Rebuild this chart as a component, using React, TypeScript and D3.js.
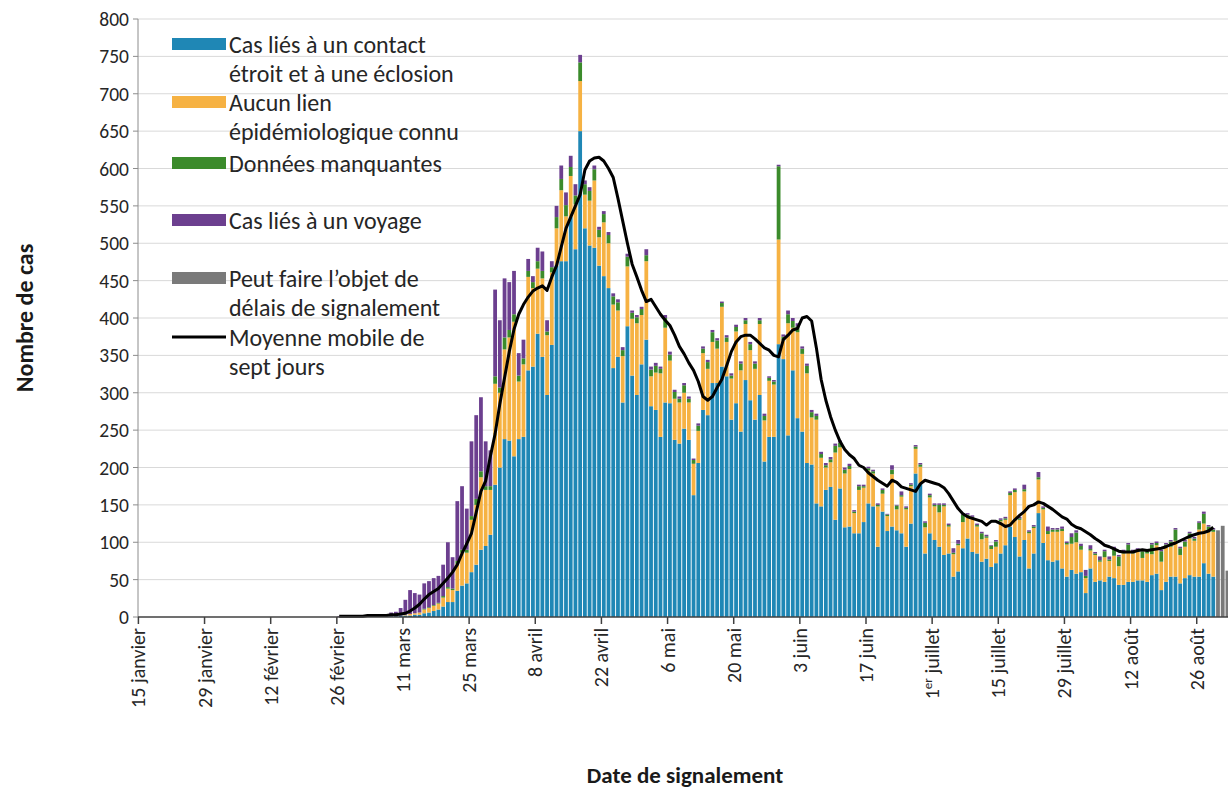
import * as d3 from 'd3';
import { useEffect, useRef } from 'react';

// daily counts from 26 février to 29 août (one value per day)
const firstDay = '2020-02-26';

const contactCases = [
  0, 0, 0, 0, 0, 0, 0,
  0, 1, 0, 1, 1, 1, 2,
  2, 2, 3, 3, 5, 6, 8,
  10, 14, 20, 20, 35, 42, 45,
  60, 70, 90, 95, 110, 177, 200,
  238, 236, 215, 238, 241, 330, 335,
  379, 348, 297, 364, 470, 476, 476,
  535, 492, 650, 520, 497, 494, 470,
  456, 440, 333, 348, 287, 389, 323,
  297, 338, 371, 282, 277, 241, 287,
  286, 237, 232, 252, 237, 163, 206,
  277, 270, 313, 313, 335, 322, 264,
  286, 248, 317, 290, 264, 297, 208,
  241, 241, 365, 345, 243, 330, 266,
  248, 206, 204, 152, 148, 170, 174,
  130, 172, 120, 121, 112, 112, 127,
  152, 148, 94, 141, 115, 121, 116,
  112, 94, 125, 192, 179, 85, 112,
  103, 94, 83, 85, 54, 61, 92,
  105, 87, 85, 74, 78, 67, 72,
  85, 96, 121, 107, 81, 103, 65,
  85, 139, 99, 76, 74, 76, 65,
  54, 63, 58, 60, 32, 65, 47,
  49, 47, 54, 52, 43, 43, 47,
  47, 49, 49, 47, 56, 58, 36,
  47, 54, 54, 45, 52, 56, 54,
  54, 72, 58, 54,
];

const unknownLink = [
  0, 0, 0, 0, 0, 0, 0,
  0, 0, 0, 0, 0, 0, 0,
  1, 2, 2, 3, 5, 6, 7,
  8, 12, 18, 16, 36, 44, 41,
  70, 80, 97, 75, 60, 135, 100,
  120, 138, 180, 77, 97, 125, 105,
  87, 105, 80, 97, 50, 95, 60,
  55, 60, 67, 45, 60, 90, 38,
  72, 60, 85, 62, 62, 80, 76,
  96, 66, 105, 40, 50, 85, 100,
  57, 55, 55, 48, 50, 42, 43,
  76, 62, 55, 46, 80, 46, 55,
  96, 82, 75, 67, 68, 95, 55,
  75, 70, 140, 25, 150, 57, 115,
  104, 120, 63, 112, 65, 30, 33,
  90, 55, 72, 77, 27, 58, 46,
  44, 44, 54, 24, 20, 70, 28,
  49, 50, 50, 33, 22, 35, 48,
  45, 46, 65, 36, 30, 35, 35,
  30, 45, 36, 30, 28, 24, 22,
  43, 34, 42, 60, 49, 65, 47,
  34, 45, 45, 35, 40, 38, 50,
  43, 35, 42, 30, 20, 24, 36,
  25, 33, 21, 30, 25, 42, 40,
  38, 38, 30, 38, 28, 38, 38,
  47, 40, 48, 38, 42, 49, 48,
  63, 53, 56, 60,
];

const missingData = [
  0, 0, 0, 0, 0, 0, 0,
  0, 0, 0, 0, 0, 0, 0,
  0, 0, 0, 0, 1, 1, 1,
  1, 2, 2, 2, 4, 4, 4,
  5, 8, 8, 5, 5, 10, 7,
  16, 10, 10, 8, 8, 8, 8,
  10, 10, 5, 7, 15, 15, 15,
  12, 12, 25, 14, 13, 15, 10,
  11, 11, 11, 11, 8, 13, 8,
  8, 8, 8, 9, 9, 6, 13,
  8, 9, 5, 10, 5, 5, 7,
  6, 9, 13, 11, 5, 6, 4,
  6, 9, 5, 8, 7, 5, 6,
  4, 4, 98, 5, 12, 9, 8,
  7, 10, 7, 5, 5, 3, 4,
  9, 6, 5, 4, 2, 5, 2,
  3, 3, 2, 5, 2, 6, 5,
  2, 2, 2, 3, 3, 6, 3,
  2, 10, 2, 2, 2, 2, 10,
  2, 2, 2, 8, 2, 4, 7,
  2, 2, 3, 3, 2, 3, 2,
  2, 3, 2, 4, 3, 3, 3,
  2, 9, 13, 5, 3, 2, 2,
  2, 8, 2, 10, 13, 3, 10,
  3, 3, 9, 3, 13, 3, 14,
  3, 7, 15, 9, 7, 7, 3,
  9, 13, 7, 3,
];

const travelCases = [
  1, 0, 1, 1, 2, 1, 2,
  3, 2, 4, 3, 5, 6, 10,
  20, 32, 27, 24, 34, 35, 36,
  36, 42, 60, 42, 80, 85, 55,
  100, 112, 99, 60, 48, 116, 90,
  79, 64, 58, 30, 25, 16, 8,
  18, 26, 15, 8, 15, 18, 17,
  15, 15, 10, 5, 5, 5, 4,
  4, 4, 4, 4, 4, 4, 3,
  3, 3, 8, 4, 4, 3, 4,
  4, 3, 3, 3, 3, 2, 3,
  3, 3, 3, 3, 2, 3, 3,
  3, 3, 3, 3, 3, 3, 3,
  2, 2, 2, 3, 5, 4, 4,
  3, 3, 3, 3, 3, 3, 3,
  3, 3, 3, 3, 2, 2, 2,
  2, 2, 2, 2, 1, 6, 1,
  5, 2, 2, 2, 2, 2, 2,
  2, 2, 2, 2, 6, 5, 2,
  2, 2, 2, 2, 2, 1, 2,
  2, 2, 2, 2, 2, 6, 2,
  2, 7, 2, 6, 2, 2, 3,
  2, 5, 3, 3, 8, 5, 2,
  5, 2, 4, 2, 2, 2, 2,
  2, 2, 2, 2, 2, 2, 2,
  2, 2, 2, 2, 2, 2, 2,
  2, 3, 2, 2,
];

// last days, may still be reported late
const delayDays = ['2020-08-30', '2020-08-31', '2020-09-01'];
const delayCases = [116, 122, 62];

// 7-day moving average, same days as the arrays above
const movingAverage = [
  1, 1, 1, 1, 1, 1, 2,
  2, 2, 2, 2, 3, 3, 4,
  5, 8, 12, 17, 24, 30, 34,
  38, 45, 52, 60, 70, 85, 98,
  112, 140, 168, 182, 215, 245, 285,
  320, 355, 385, 405, 418, 428, 436,
  440, 443, 437, 455, 470, 495, 520,
  535, 550, 565, 598, 610, 614, 615,
  610, 600, 588, 560, 530, 500, 472,
  455, 437, 422, 425, 415, 405, 397,
  390, 377, 362, 352, 340, 330, 315,
  295, 290, 295, 307, 318, 336, 355,
  368, 375, 377, 377, 372, 366, 360,
  357, 350, 348, 371, 377, 384, 386,
  400, 402, 396, 360, 318, 290, 268,
  250, 235, 224, 217, 212, 203, 200,
  193, 188, 183, 179, 175, 183, 180,
  174, 172, 170, 168, 178, 183, 181,
  179, 177, 173, 165, 155, 145, 138,
  134, 132, 130, 128, 123, 128, 128,
  125, 121, 123, 130, 136, 141, 148,
  150, 154, 152, 148, 144, 139, 134,
  131, 124, 120, 118, 114, 110, 105,
  101, 96, 94, 91, 88, 87, 87,
  87, 89, 90, 89, 90, 91, 92,
  94, 97, 99, 102, 105, 108, 110,
  112, 113, 115, 120,
];

const axisStart = '2020-01-15';
const axisEnd = '2020-09-02';

const tickDays = [
  '2020-01-15', '2020-01-29', '2020-02-12', '2020-02-26', '2020-03-11',
  '2020-03-25', '2020-04-08', '2020-04-22', '2020-05-06', '2020-05-20',
  '2020-06-03', '2020-06-17', '2020-07-01', '2020-07-15', '2020-07-29',
  '2020-08-12', '2020-08-26',
];
const tickLabels = [
  '15 janvier', '29 janvier', '12 février', '26 février', '11 mars',
  '25 mars', '8 avril', '22 avril', '6 mai', '20 mai', '3 juin', '17 juin',
  '1er juillet', '15 juillet', '29 juillet', '12 août', '26 août',
];
const yTicks = [0, 50, 100, 150, 200, 250, 300, 350, 400, 450, 500, 550, 600, 650, 700, 750, 800];

const seriesKeys = ['contact', 'unknown', 'missing', 'travel', 'delay'];
const seriesColors: Record<string, string> = {
  contact: '#1f87b5',
  unknown: '#f6b243',
  missing: '#3b8b2b',
  travel: '#6c3f8f',
  delay: '#7a7a7a',
};

const legendItems = [
  { key: 'contact', lines: ['Cas liés à un contact', 'étroit et à une éclosion'], y: 53 },
  { key: 'unknown', lines: ['Aucun lien', 'épidémiologique connu'], y: 111 },
  { key: 'missing', lines: ['Données manquantes'], y: 172 },
  { key: 'travel', lines: ['Cas liés à un voyage'], y: 229 },
  { key: 'delay', lines: ['Peut faire l’objet de', 'délais de signalement'], y: 287 },
  { key: 'line', lines: ['Moyenne mobile de', 'sept jours'], y: 346 },
];

const FONT = "Carlito, Calibri, Lato, 'Open Sans', sans-serif";

function App() {
  const svgRef = useRef<SVGSVGElement>(null);

  const width = 1228;
  const height = 793;
  const plot = { left: 138, right: 1228, top: 19, bottom: 617 };

  useEffect(() => {
    document.body.style.margin = '0';
    const svg = d3.select(svgRef.current);
    svg.selectAll('*').remove();

    const parse = d3.timeParse('%Y-%m-%d');
    const fmt = d3.timeFormat('%Y-%m-%d');
    // @ts-expect-error parse never fails on our strings
    const allDays = d3.timeDay.range(parse(axisStart), parse(axisEnd)).map(fmt);

    const x = d3
      .scaleBand()
      .domain(allDays)
      .range([138.4, 1229.8])
      .paddingInner(0.2)
      .paddingOuter(0.1);
    const step = x.step();
    const tickX = (d: string) => (x(d) as number) - step * 0.1;

    const y = d3.scaleLinear().domain([0, 800]).range([plot.bottom, plot.top]);

    // rows for the stack
    const start = allDays.indexOf(firstDay);
    const rows = contactCases.map((_v, i) => ({
      day: allDays[start + i],
      contact: contactCases[i],
      unknown: unknownLink[i],
      missing: missingData[i],
      travel: travelCases[i],
      delay: 0,
    }));
    delayDays.forEach((day, i) => {
      rows.push({ day, contact: 0, unknown: 0, missing: 0, travel: 0, delay: delayCases[i] });
    });

    // grid lines
    svg
      .append('g')
      .selectAll('line')
      .data(yTicks.filter((t) => t > 0))
      .enter()
      .append('line')
      .attr('x1', plot.left)
      .attr('x2', plot.right)
      .attr('y1', (d) => y(d))
      .attr('y2', (d) => y(d))
      .attr('stroke', '#d9d9d9')
      .attr('stroke-width', 1);

    // bars
    const stack = d3.stack<any>().keys(seriesKeys);
    const layers = stack(rows);
    svg
      .append('g')
      .selectAll('g')
      .data(layers)
      .enter()
      .append('g')
      .attr('fill', (d) => seriesColors[d.key])
      .selectAll('rect')
      .data((d) => d.filter((p) => p[1] - p[0] > 0))
      .enter()
      .append('rect')
      .attr('x', (d) => x(d.data.day) as number)
      .attr('width', x.bandwidth())
      .attr('y', (d) => y(d[1]))
      .attr('height', (d) => y(d[0]) - y(d[1]));

    // moving average
    const line = d3
      .line<number>()
      .x((_d, i) => (x(allDays[start + i]) as number) + x.bandwidth() / 2)
      .y((d) => y(d));
    svg
      .append('path')
      .datum(movingAverage)
      .attr('d', line)
      .attr('fill', 'none')
      .attr('stroke', '#000')
      .attr('stroke-width', 3)
      .attr('stroke-linejoin', 'round');

    // y axis
    const yAxis = svg.append('g');
    yAxis
      .append('line')
      .attr('x1', plot.left)
      .attr('x2', plot.left)
      .attr('y1', plot.top)
      .attr('y2', plot.bottom)
      .attr('stroke', '#8c8c8c');
    yAxis
      .selectAll('.ytick')
      .data(yTicks)
      .enter()
      .append('line')
      .attr('x1', plot.left - 5)
      .attr('x2', plot.left)
      .attr('y1', (d) => y(d))
      .attr('y2', (d) => y(d))
      .attr('stroke', '#8c8c8c');
    yAxis
      .selectAll('text')
      .data(yTicks)
      .enter()
      .append('text')
      .attr('x', plot.left - 9)
      .attr('y', (d) => y(d) + 7)
      .attr('text-anchor', 'end')
      .attr('font-size', 19.5)
      .attr('fill', '#262626')
      .text((d) => d);

    // x axis
    const xAxis = svg.append('g');
    xAxis
      .append('line')
      .attr('x1', plot.left)
      .attr('x2', plot.right)
      .attr('y1', plot.bottom)
      .attr('y2', plot.bottom)
      .attr('stroke', '#404040')
      .attr('stroke-width', 1.5);
    xAxis
      .selectAll('.xtick')
      .data(tickDays)
      .enter()
      .append('line')
      .attr('x1', (d) => tickX(d))
      .attr('x2', (d) => tickX(d))
      .attr('y1', plot.bottom)
      .attr('y2', plot.bottom + 7)
      .attr('stroke', '#404040')
      .attr('stroke-width', 1.5);
    const labels = xAxis
      .selectAll('text')
      .data(tickDays)
      .enter()
      .append('text')
      .attr('transform', (d) => `translate(${tickX(d) + 7},${plot.bottom + 11}) rotate(-90)`)
      .attr('text-anchor', 'end')
      .attr('font-size', 20)
      .attr('fill', '#262626');
    labels.each(function (_d, i) {
      const t = d3.select(this);
      const label = tickLabels[i];
      if (label.startsWith('1er')) {
        t.append('tspan').text('1');
        t.append('tspan').attr('dy', -7).attr('font-size', 13).text('er');
        t.append('tspan').attr('dy', 7).text(' juillet');
      } else {
        t.text(label);
      }
    });

    // titles
    svg
      .append('text')
      .attr('transform', `translate(33,${(plot.top + plot.bottom) / 2}) rotate(-90)`)
      .attr('text-anchor', 'middle')
      .attr('font-size', 24)
      .attr('font-weight', 'bold')
      .attr('fill', '#1a1a1a')
      .text('Nombre de cas');
    svg
      .append('text')
      .attr('x', 685)
      .attr('y', 783)
      .attr('text-anchor', 'middle')
      .attr('font-size', 23)
      .attr('font-weight', 'bold')
      .attr('fill', '#1a1a1a')
      .text('Date de signalement');

    // legend
    const legend = svg.append('g');
    legendItems.forEach((item) => {
      if (item.key === 'line') {
        legend
          .append('line')
          .attr('x1', 172)
          .attr('x2', 226)
          .attr('y1', item.y - 9)
          .attr('y2', item.y - 9)
          .attr('stroke', '#000')
          .attr('stroke-width', 3);
      } else {
        legend
          .append('rect')
          .attr('x', 172)
          .attr('y', item.y - 15)
          .attr('width', 54)
          .attr('height', 12)
          .attr('fill', seriesColors[item.key]);
      }
      item.lines.forEach((ln, j) => {
        legend
          .append('text')
          .attr('x', 229)
          .attr('y', item.y + j * 29)
          .attr('font-size', 24)
          .attr('fill', '#262626')
          .text(ln);
      });
    });
  }, []);

  return (
    <svg
      ref={svgRef}
      width={width}
      height={height}
      style={{ display: 'block', background: '#fff', fontFamily: FONT }}
    />
  );
}

export default App;
